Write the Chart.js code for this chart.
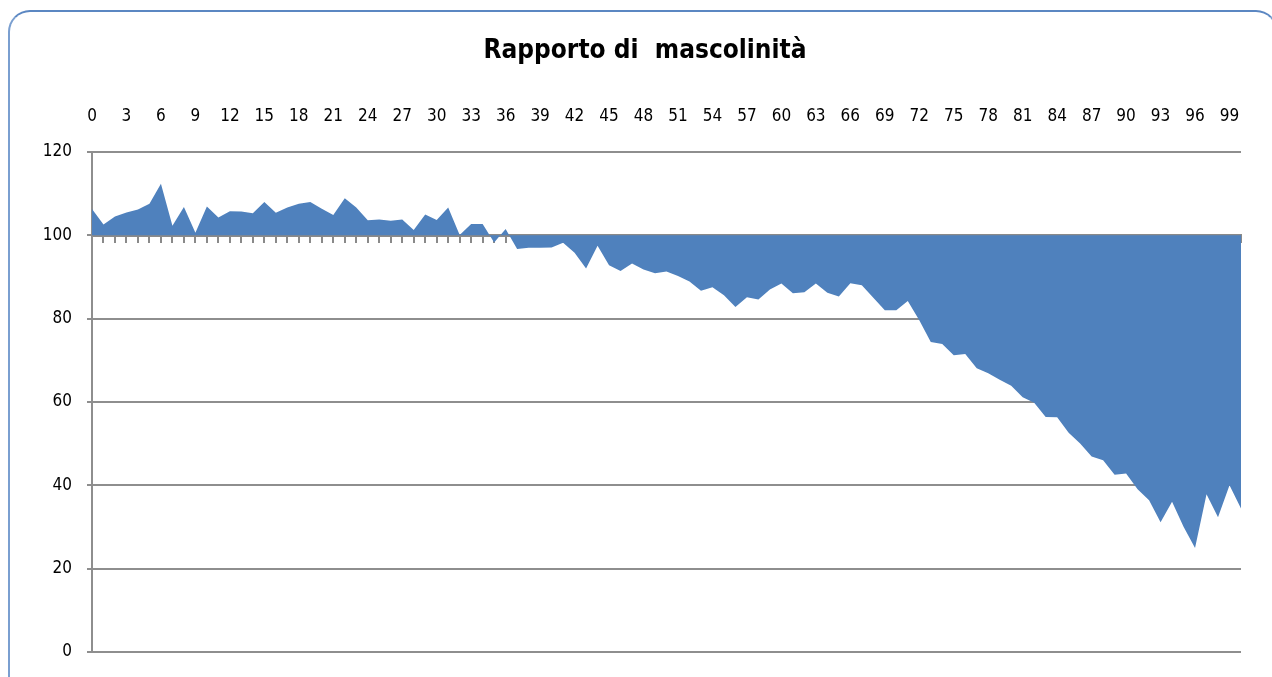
<!DOCTYPE html>
<html>
<head>
<meta charset="utf-8">
<script src="https://cdn.jsdelivr.net/npm/chart.js@4/dist/chart.umd.min.js"></script>
<style>
  body { margin: 0; background: #fff; overflow: hidden; }
  #frame {
    position: absolute; left: 8px; top: 10px; width: 1270px; height: 700px;
    border: 2px solid #7a9fd0; border-top-color: #5b87c2; border-radius: 22px; box-sizing: border-box;
  }
  #chart { position: absolute; left: 0; top: 0; }
  #title {
    position: absolute; left: 0; top: 34px; width: 1290px; text-align: center;
    font: bold 26px 'Liberation Sans Narrow', 'DejaVu Sans Condensed', sans-serif;
    line-height: 30px; color: #000; white-space: pre;
  }
</style>
</head>
<body>
<div id="frame"></div>
<canvas id="chart" width="1272" height="677"></canvas>
<div id="title">Rapporto di  mascolinità</div>
<script>
// eta' 0..100
const ages = [];
for (let i = 0; i <= 100; i++) ages.push(String(i));

// rapporto di mascolinita' (maschi per 100 femmine)
const ratio = [
  106.3, 102.6, 104.5, 105.5, 106.2, 107.6, 112.4, 102.3, 106.8, 100.6,
  106.9, 104.3, 105.8, 105.7, 105.3, 108.0, 105.4, 106.7, 107.6, 108.0,
  106.4, 104.9, 108.9, 106.7, 103.6, 103.8, 103.5, 103.8, 101.3, 105.0,
  103.7, 106.7, 100.1, 102.7, 102.7, 98.3, 101.5, 96.7, 97.0, 97.0,
  97.1, 98.2, 95.8, 92.0, 97.5, 92.8, 91.4, 93.2, 91.8, 90.9,
  91.3, 90.2, 88.9, 86.7, 87.5, 85.6, 82.8, 85.1, 84.6, 87.0,
  88.4, 86.1, 86.3, 88.4, 86.2, 85.3, 88.5, 88.0, 85.0, 82.0,
  82.0, 84.2, 79.6, 74.4, 73.9, 71.2, 71.5, 68.1, 66.9, 65.3,
  63.9, 61.1, 59.8, 56.4, 56.3, 52.6, 50.0, 46.9, 46.0, 42.5,
  42.8, 39.0, 36.4, 31.1, 36.0, 30.0, 24.9, 37.8, 32.3, 40.0,
  34.4
];

const baseline = 100;
const labelEvery = 3;
const fontFamily = "'Liberation Sans Narrow', 'DejaVu Sans Condensed', sans-serif";

new Chart(document.getElementById('chart'), {
  type: 'line',
  data: {
    labels: ages,
    datasets: [{
      data: ratio,
      xAxisID: 'x',
      yAxisID: 'y',
      fill: { value: baseline },
      backgroundColor: '#4f81bd',
      borderColor: 'rgba(0,0,0,0)',
      borderWidth: 0,
      pointRadius: 0,
      tension: 0
    }]
  },
  options: {
    responsive: false,
    animation: false,
    layout: { padding: { left: 0, right: 31, top: 0, bottom: 19 } },
    plugins: {
      legend: { display: false },
      tooltip: { enabled: false },
      title: { display: false }
    },
    scales: {
      x: {
        type: 'category',
        position: 'top',
        offset: false,
        grid: { display: false, drawTicks: false },
        border: { display: false },
        ticks: {
          autoSkip: false,
          maxRotation: 0,
          padding: 25,
          color: '#000',
          font: { family: fontFamily, size: 17 },
          callback: function (v, i) { return i % labelEvery === 0 ? this.getLabelForValue(v) : ''; }
        },
        afterFit: s => { s.height = 152; }
      },
      x2: {
        type: 'category',
        position: { y: baseline },
        offset: false,
        z: 1,
        grid: { drawOnChartArea: false, drawTicks: true, tickLength: 6, color: '#8a8a8a', lineWidth: 2 },
        border: { display: true, color: '#8a8a8a', width: 3 },
        ticks: { display: false, autoSkip: false },
        afterFit: s => { s.height = 0; }
      },
      y: {
        min: 0,
        max: 120,
        ticks: {
          stepSize: 20,
          padding: 15,
          color: '#000',
          font: { family: fontFamily, size: 17 }
        },
        grid: { color: '#8e8e8e', lineWidth: 2, tickLength: 5 },
        border: { display: true, color: '#8e8e8e', width: 2 },
        afterFit: s => { s.width = 92; }
      }
    }
  }
});
</script>
</body>
</html>
